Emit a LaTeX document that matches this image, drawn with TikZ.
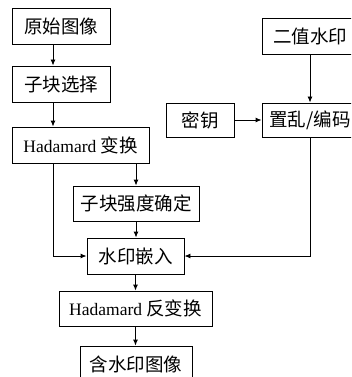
\documentclass[tikz,border=0pt]{standalone}
\usepackage{fontspec}
\setmainfont{Liberation Serif}
\newfontfamily\cjk{Noto Sans CJK SC}
\newcommand{\lat}[1]{{\fontspec{Liberation Serif}\fontsize{17.5}{17.5}\selectfont #1}}
\usetikzlibrary{arrows.meta}
\begin{document}
\begin{tikzpicture}[x=1pt,y=-1pt,
  box/.style={draw, line width=0.9pt, rectangle, inner sep=0pt, font=\fontsize{18.5}{18.5}\selectfont\cjk},
  arr/.style={line width=0.9pt, -{Latex[length=6pt,width=5pt]}},
  ln/.style={line width=0.9pt}]
\useasboundingbox (0,0) rectangle (351,377);
\clip (0,0) rectangle (351,377);
\node[box, minimum width=98pt, minimum height=36pt] (a) at (61,26) {原始图像};
\node[box, minimum width=98pt, minimum height=36pt] (b) at (61,84) {子块选择};
\node[box, minimum width=137pt, minimum height=36pt] (c) at (80.5,145) {\lat{Hadamard} 变换};
\node[box, minimum width=126pt, minimum height=35pt] (d) at (136,203.5) {子块强度确定};
\node[box, minimum width=97pt, minimum height=36pt] (e) at (135.5,256) {水印嵌入};
\node[box, minimum width=153pt, minimum height=35pt] (f) at (135.5,308.5) {\lat{Hadamard} 反变换};
\node[box, minimum width=112pt, minimum height=36pt] (g) at (136,364) {含水印图像};
\node[box, minimum width=96pt, minimum height=36pt] (h) at (310,36) {二值水印};
\node[box, minimum width=68pt, minimum height=34pt] (k) at (200,120) {密钥};
\node[box, minimum width=96pt, minimum height=34pt] (m) at (310,120) {置乱/编码};
\draw[arr] ([xshift=-8pt]a.south) -- ([xshift=-8pt]b.north);
\draw[arr] ([xshift=-8pt]b.south) -- ([xshift=-27.5pt]c.north);
\draw[arr] ([xshift=-27.5pt]c.south) |- (e.west);
\draw[arr] (d.north |- c.south) -- (d.north);
\draw[arr] (d.south) -- (d.south |- e.north);
\draw[arr] (e.south) -- (f.north);
\draw[arr] (f.south) -- (f.south |- g.north);
\draw[arr] (h.south) -- (m.north);
\draw[arr] (k.east) -- (m.west);
\draw[arr] (m.south) |- (e.east);
\end{tikzpicture}
\end{document}
